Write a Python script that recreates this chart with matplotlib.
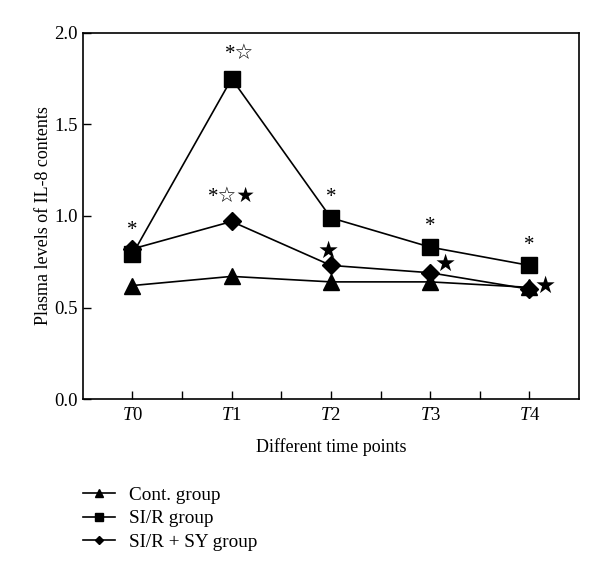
import numpy as np
import matplotlib.pyplot as plt

plt.rcParams['font.family'] = ['Liberation Serif', 'DejaVu Sans']
plt.rcParams['mathtext.fontset'] = 'custom'
plt.rcParams['mathtext.it'] = 'Liberation Serif:italic'
plt.rcParams['mathtext.rm'] = 'Liberation Serif'

# data
time_points = ['T0', 'T1', 'T2', 'T3', 'T4']
cont = [0.62, 0.67, 0.64, 0.64, 0.61]
sir = [0.79, 1.75, 0.99, 0.83, 0.73]
sir_sy = [0.82, 0.97, 0.73, 0.69, 0.60]
labels = ['Cont. group', 'SI/R group', 'SI/R + SY group']

# significance marks (x, y, text)
marks = [
    (0, 0.92, '*'),
    (1.08, 1.88, '*☆'),
    (1.0, 1.10, '*☆★'),
    (2, 1.10, '*'),
    (3, 0.945, '*'),
    (4, 0.84, '*'),
]
stars = [(1.97, 0.81), (3.15, 0.74), (4.16, 0.62)]

x = np.arange(len(time_points))

fig = plt.figure(figsize=(6, 5.72), dpi=100)
ax = fig.add_axes([0.138, 0.3024, 0.827, 0.64])

ax.plot(x, cont, 'k-', marker='^', markersize=12, lw=1.2, label=labels[0], zorder=3)
ax.plot(x, sir, 'k-', marker='s', markersize=12, lw=1.2, label=labels[1], zorder=3)
ax.plot(x, sir_sy, 'k-', marker='D', markersize=9, lw=1.2, label=labels[2], zorder=4)

for mx, my, t in marks:
    ax.text(mx, my, t, ha='center', va='center', fontsize=15)
for sx, sy in stars:
    ax.text(sx, sy, '★', ha='center', va='center', fontsize=17, family='DejaVu Sans')

ax.set_xlim(-0.5, 4.5)
ax.set_ylim(0, 2.0)
ax.set_yticks([0, 0.5, 1.0, 1.5, 2.0])
ax.set_yticklabels(['0.0', '0.5', '1.0', '1.5', '2.0'])
ax.set_xticks(x)
ax.set_xticklabels([r'$\mathit{T}$' + t[1] for t in time_points])
ax.set_xticks(x[:-1] + 0.5, minor=True)
ax.tick_params(direction='in', length=6, labelsize=13.5, width=1)
ax.tick_params(axis='x', pad=6)
ax.tick_params(which='minor', direction='in', length=6, width=1)
for s in ax.spines.values():
    s.set_linewidth(1.2)

ax.set_xlabel('Different time points', fontsize=13, labelpad=10)
ax.set_ylabel('Plasma levels of IL-8 contents', fontsize=13, labelpad=2)

h, l = ax.get_legend_handles_labels()
fig.legend(h, l, loc='upper left', bbox_to_anchor=(0.125, 0.163), frameon=False,
           fontsize=13.8, handlelength=1.7, markerscale=0.45, labelspacing=0.32,
           handletextpad=0.7, borderaxespad=0)

fig.savefig('out.png', dpi=100)
